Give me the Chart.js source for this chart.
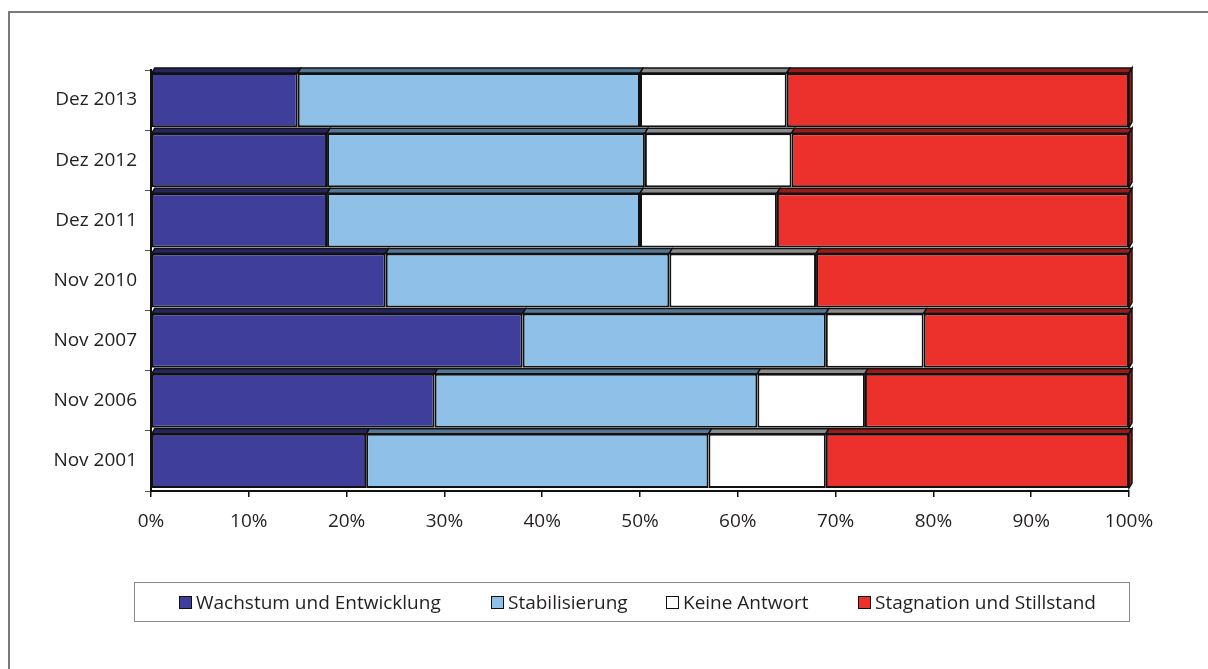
<!DOCTYPE html>
<html>
<head>
<meta charset="utf-8">
<script src="https://cdn.jsdelivr.net/npm/chart.js@4.4.1/dist/chart.umd.min.js"></script>
<style>
  html, body { margin: 0; padding: 0; background: #fff; }
  body { width: 1208px; height: 669px; position: relative; overflow: hidden; font-family: "Open Sans", sans-serif; }
  #frame { position: absolute; left: 8px; top: 11px; width: 1300px; height: 800px; border-left: 2px solid #7a7a7a; border-top: 2px solid #7a7a7a; }
  #chart-wrap { position: absolute; left: 0; top: 0; width: 1208px; height: 669px; }
  #legend { position: absolute; left: 134px; top: 582px; width: 994px; height: 38px; border: 1px solid #8a8a8a; box-sizing: content-box;
            color: #231f20; font-size: 19px; }
  .item { display: flex; align-items: center; position: absolute; top: 0; height: 38px; white-space: nowrap; }
  .box { width: 11px; height: 11px; border: 1.5px solid #111; margin-right: 4px; }
</style>
</head>
<body>
<div id="frame"></div>
<div id="chart-wrap"><canvas id="survey-chart" width="1208" height="669"></canvas></div>
<div id="legend"></div>
<script>
// Survey waves, listed top to bottom
const waves = ['Dez 2013', 'Dez 2012', 'Dez 2011', 'Nov 2010', 'Nov 2007', 'Nov 2006', 'Nov 2001'];

// Share of answers in percent
const wachstum    = [15, 18,   18, 24, 38, 29, 22];
const stabil      = [35, 32.5, 32, 29, 31, 33, 35];
const keineAntw   = [15, 15,   14, 15, 10, 11, 12];
const stagnation  = [35, 34.5, 36, 32, 21, 27, 31];

const xTicks = [0, 10, 20, 30, 40, 50, 60, 70, 80, 90, 100];

const series = [
    { label: 'Wachstum und Entwicklung', data: wachstum,   color: '#3f3f9b', shade: '#26265e' },
    { label: 'Stabilisierung',           data: stabil,     color: '#8fc0e7', shade: '#557796' },
    { label: 'Keine Antwort',            data: keineAntw,  color: '#ffffff', shade: '#8c8c8c' },
    { label: 'Stagnation und Stillstand', data: stagnation, color: '#ec302c', shade: '#9a1c1a' },
];

const DEPTH_X = 3;
const DEPTH_Y = 5;

// Draws the top faces (and the right face of the last stack) for a flat 3D look
const barDepth = {
    id: 'barDepth',
    afterDatasetsDraw(chart) {
        const ctx = chart.ctx;
        ctx.save();
        ctx.lineWidth = 1.5;
        ctx.strokeStyle = '#111';
        const last = chart.data.datasets.length - 1;
        chart.data.datasets.forEach((ds, i) => {
            const meta = chart.getDatasetMeta(i);
            meta.data.forEach(bar => {
                const p = bar.getProps(['x', 'y', 'base', 'height'], true);
                const top = p.y - p.height / 2;
                const bottom = p.y + p.height / 2;
                ctx.fillStyle = series[i].shade;
                ctx.beginPath();
                ctx.moveTo(p.base, top);
                ctx.lineTo(p.x, top);
                ctx.lineTo(p.x + DEPTH_X, top - DEPTH_Y);
                ctx.lineTo(p.base + DEPTH_X, top - DEPTH_Y);
                ctx.closePath();
                ctx.fill();
                ctx.stroke();
                if (i === last) {
                    ctx.beginPath();
                    ctx.moveTo(p.x, top);
                    ctx.lineTo(p.x + DEPTH_X, top - DEPTH_Y);
                    ctx.lineTo(p.x + DEPTH_X, bottom - DEPTH_Y);
                    ctx.lineTo(p.x, bottom);
                    ctx.closePath();
                    ctx.fill();
                    ctx.stroke();
                }
            });
        });
        ctx.restore();
    }
};

const font = { family: '"Open Sans", sans-serif', size: 19 };

new Chart(document.getElementById('survey-chart'), {
    type: 'bar',
    data: {
        labels: waves,
        datasets: series.map(s => ({
            label: s.label,
            data: s.data,
            backgroundColor: s.color,
            borderColor: '#111',
            borderWidth: 2,
            borderSkipped: false,
            categoryPercentage: 1,
            barPercentage: 0.9,
        }))
    },
    options: {
        indexAxis: 'y',
        responsive: false,
        animation: false,
        events: [],
        layout: { padding: { top: 70, right: 79, left: 0, bottom: 0 } },
        plugins: { legend: { display: false }, tooltip: { enabled: false } },
        scales: {
            x: {
                stacked: true,
                min: 0,
                max: 100,
                afterFit: s => { s.height = 178; },
                afterBuildTicks: s => { s.ticks = xTicks.map(v => ({ value: v })); },
                ticks: { color: '#231f20', font: font, padding: 13, maxRotation: 0, callback: v => v + '%' },
                grid: { drawOnChartArea: false, tickLength: 6, color: '#111', lineWidth: 1.5 },
                border: { display: true, color: '#111', width: 2 }
            },
            y: {
                stacked: true,
                afterFit: s => { s.width = 151; },
                ticks: { color: '#231f20', font: font, padding: 8 },
                grid: { drawOnChartArea: false, tickLength: 6, color: '#555', lineWidth: 1 },
                border: { display: true, color: '#111', width: 2 }
            }
        }
    },
    plugins: [barDepth]
});

// Legend below the chart, one entry per series
const legendLeft = [44, 356, 531, 723];
const legend = document.getElementById('legend');
series.forEach((s, i) => {
    const item = document.createElement('div');
    item.className = 'item';
    item.style.left = legendLeft[i] + 'px';
    const box = document.createElement('span');
    box.className = 'box';
    box.style.background = s.color;
    const text = document.createElement('span');
    text.textContent = s.label;
    item.appendChild(box);
    item.appendChild(text);
    legend.appendChild(item);
});
</script>
</body>
</html>
